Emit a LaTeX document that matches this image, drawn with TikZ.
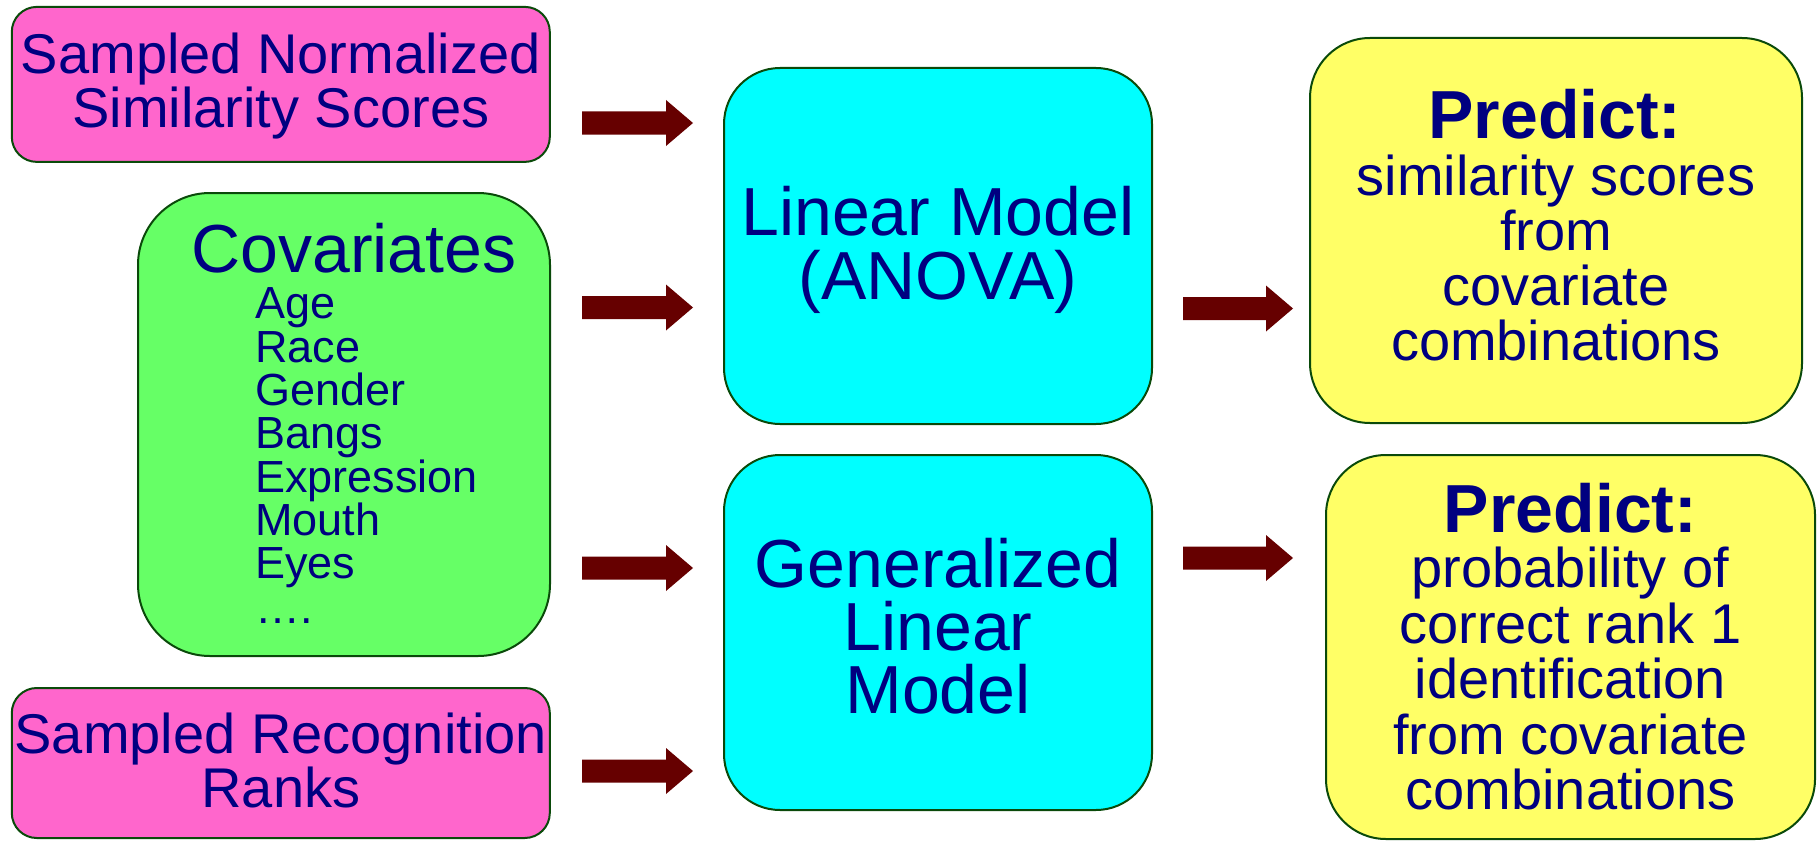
\documentclass[tikz,border=0pt]{standalone}
\usepackage{fontspec}
\setmainfont{Liberation Sans}
\usetikzlibrary{calc}
\definecolor{navy}{HTML}{000080}
\definecolor{boxpink}{HTML}{FF66CC}
\definecolor{boxgreen}{HTML}{66FF66}
\definecolor{boxcyan}{HTML}{00FFFF}
\definecolor{boxyellow}{HTML}{FFFF66}
\definecolor{edgegreen}{HTML}{0A4A0A}
\definecolor{arrowred}{HTML}{660000}
\begin{document}
\begin{tikzpicture}[x=1pt,y=-1pt,
  box/.style={draw=edgegreen, line width=2pt, inner sep=0pt},
  txt/.style={text=navy, inner sep=0pt, anchor=base},
  srcfont/.style={font=\fontsize{56}{54}\selectfont},
  modelfont/.style={font=\fontsize{68}{64}\selectfont},
  predfont/.style={font=\fontsize{68}{64}\selectfont\bfseries},
  bodyfont/.style={font=\fontsize{56}{55}\selectfont},
  listfont/.style={font=\fontsize{45}{43}\selectfont},
  blockarrow/.style={fill=arrowred, to path={
    ($(\tikztostart)+(0,-11.5)$) -- ($(\tikztotarget)+(-27,-11.5)$)
    -- ($(\tikztotarget)+(-27,-23)$) -- (\tikztotarget)
    -- ($(\tikztotarget)+(-27,23)$) -- ($(\tikztotarget)+(-27,11.5)$)
    -- ($(\tikztostart)+(0,11.5)$) -- cycle}}
]
\useasboundingbox (0,0) rectangle (1819,840);

% input boxes
\node[box, fill=boxpink, rounded corners=25pt, minimum width=538pt, minimum height=155pt] (pink1) at (280.8,84.4) {};
\node[box, fill=boxgreen, rounded corners=72pt, minimum width=412pt, minimum height=463pt] (cov) at (344,424.5) {};
\node[box, fill=boxpink, rounded corners=25pt, minimum width=538pt, minimum height=150pt] (pink2) at (280.8,763) {};

% model boxes
\node[box, fill=boxcyan, rounded corners=56pt, minimum width=428pt, minimum height=356pt] (lm) at (938,246) {};
\node[box, fill=boxcyan, rounded corners=56pt, minimum width=428pt, minimum height=355pt] (glm) at (938,632.5) {};

% prediction boxes
\node[box, fill=boxyellow, rounded corners=60pt, minimum width=492pt, minimum height=385pt] (pred1) at (1556,230.5) {};
\node[box, fill=boxyellow, rounded corners=60pt, minimum width=489pt, minimum height=384pt] (pred2) at (1570.5,647) {};

% texts of the input boxes
\node[txt, srcfont] (pink1a) at (280.8,74) {Sampled Normalized};
\node[txt, srcfont] (pink1b) at (280.8,128) {Similarity Scores};
\node[txt, srcfont] (pink2a) at (280.8,753) {Sampled Recognition};
\node[txt, srcfont] (pink2b) at (280.8,807) {Ranks};

\node[txt, modelfont] (covt) at (354,272) {Covariates};
\node[txt, listfont, anchor=base west] (cv1) at (255,318) {Age};
\node[txt, listfont, anchor=base west] (cv2) at (255,362) {Race};
\node[txt, listfont, anchor=base west] (cv3) at (255,405) {Gender};
\node[txt, listfont, anchor=base west] (cv4) at (255,448) {Bangs};
\node[txt, listfont, anchor=base west] (cv5) at (255,492) {Expression};
\node[txt, listfont, anchor=base west] (cv6) at (255,535) {Mouth};
\node[txt, listfont, anchor=base west] (cv7) at (255,578) {Eyes};
\node[txt, listfont, anchor=base west] (cv8) at (255,623) {….};

% texts of the model boxes
\node[txt, modelfont] (lma) at (938,235) {Linear Model};
\node[txt, modelfont] (lmb) at (938,299) {(ANOVA)};
\node[txt, modelfont] (glma) at (938,587) {Generalized};
\node[txt, modelfont] (glmb) at (938,650) {Linear};
\node[txt, modelfont] (glmc) at (938,713) {Model};

% texts of the prediction boxes
\node[txt, predfont] (p1t) at (1555,139) {Predict:};
\node[txt, bodyfont] (p1a) at (1556,195) {similarity scores};
\node[txt, bodyfont] (p1b) at (1556,250) {from};
\node[txt, bodyfont] (p1c) at (1556,305) {covariate};
\node[txt, bodyfont] (p1d) at (1556,360) {combinations};

\node[txt, predfont] (p2t) at (1570.5,532) {Predict:};
\node[txt, bodyfont] (p2a) at (1570.5,587) {probability of};
\node[txt, bodyfont] (p2b) at (1570.5,643) {correct rank 1};
\node[txt, bodyfont] (p2c) at (1570.5,698) {identification};
\node[txt, bodyfont] (p2d) at (1570.5,754) {from covariate};
\node[txt, bodyfont] (p2e) at (1570.5,809) {combinations};

% arrow ends
\coordinate (a1s) at (582,123);   \coordinate (a1e) at (693,123);
\coordinate (a2s) at (582,307.5); \coordinate (a2e) at (693,307.5);
\coordinate (a3s) at (582,568);   \coordinate (a3e) at (693,568);
\coordinate (a4s) at (582,771);   \coordinate (a4e) at (693,771);
\coordinate (b1s) at (1183,308.5); \coordinate (b1e) at (1293,308.5);
\coordinate (b2s) at (1183,558);   \coordinate (b2e) at (1293,558);

% block arrows
\path[blockarrow] (a1s) to (a1e);
\path[blockarrow] (a2s) to (a2e);
\path[blockarrow] (a3s) to (a3e);
\path[blockarrow] (a4s) to (a4e);
\path[blockarrow] (b1s) to (b1e);
\path[blockarrow] (b2s) to (b2e);
\end{tikzpicture}
\end{document}
